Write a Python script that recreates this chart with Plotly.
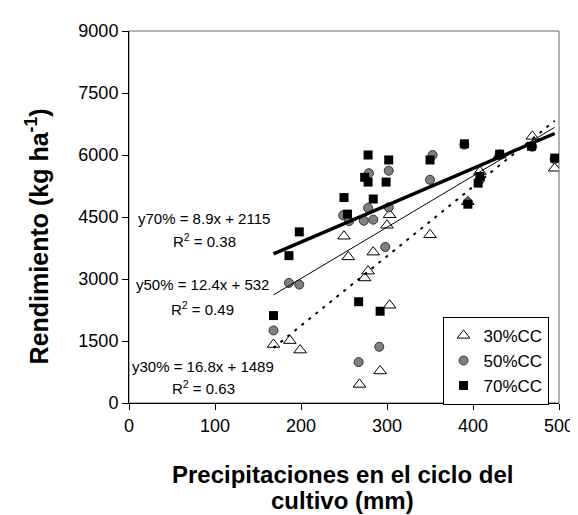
import plotly.graph_objects as go

# ---- data ----
x30 = [168, 187, 199, 250, 255, 268, 274, 278, 284, 292, 300, 303, 303, 350, 394, 408, 431, 469, 495]
y30 = [1415, 1510, 1280, 4035, 3535, 450, 3025, 3190, 3650, 775, 4300, 4555, 2365, 4070, 4870, 5600, 6000, 6450, 5680]

x50 = [168, 186, 198, 249, 256, 267, 273, 278, 279, 284, 291, 298, 302, 302, 350, 353, 390, 394, 408, 431, 469, 495]
y50 = [1755, 2905, 2865, 4540, 4400, 990, 4410, 4720, 5560, 4435, 1360, 3775, 4735, 5620, 5400, 6000, 6250, 4850, 5400, 6000, 6200, 5900]

x70 = [168, 186, 198, 250, 254, 267, 274, 278, 278, 284, 292, 299, 302, 350, 390, 394, 406, 408, 431, 468, 495]
y70 = [2115, 3565, 4140, 4970, 4570, 2450, 5460, 5345, 6000, 4935, 2220, 5345, 5880, 5880, 6270, 4810, 5320, 5480, 6020, 6210, 5925]

series_names = ["30%CC", "50%CC", "70%CC"]
slopes = [16.8, 12.4, 8.9]
intercepts = [-1489, 532, 2115]
eq_labels = ["y30% = 16.8x + 1489", "y50% = 12.4x + 532", "y70% = 8.9x + 2115"]
r2_labels = ["0.63", "0.49", "0.38"]

x_ticks = [0, 100, 200, 300, 400, 500]
y_ticks = [0, 1500, 3000, 4500, 6000, 7500, 9000]

FONT = "Arial, Liberation Sans, sans-serif"

fig = go.Figure()

xs = [x30, x50, x70]
ys = [y30, y50, y70]
marker_styles = [
    dict(symbol="triangle-up", size=11, color="white", line=dict(color="black", width=1)),
    dict(symbol="circle", size=9, color="#808080", line=dict(color="#333333", width=1)),
    dict(symbol="square", size=9, color="black", line=dict(color="black", width=0)),
]
for xv, yv, name, ms in zip(xs, ys, series_names, marker_styles):
    fig.add_trace(go.Scatter(x=xv, y=yv, mode="markers", name=name, marker=ms))

line_styles = [
    dict(color="black", width=2, dash="3px,6px"),
    dict(color="black", width=1),
    dict(color="black", width=3.5),
]
for xv, a, b, ls in zip(xs, slopes, intercepts, line_styles):
    lx = [min(xv), max(xv)]
    ly = [a * v + b for v in lx]
    fig.add_trace(go.Scatter(x=lx, y=ly, mode="lines", line=ls, showlegend=False, hoverinfo="skip"))

# plot area geometry (px)
L, R, T, B = 120.7, 560.7, 22.7, 395.3
W, H = 578, 515
def px2paper(px, py):
    return (px - L) / (R - L), (B - py) / (B - T)

ann = []
eq_pos = [(196.7, 358.3, 197, 380), (196.2, 277, 195.8, 300.7), (197.5, 210.7, 197.5, 233)]
for lab, r2, (ex, ey, rx, ry) in zip(eq_labels, r2_labels, eq_pos):
    px_, py_ = px2paper(ex, ey)
    ann.append(dict(x=px_, y=py_, xref="paper", yref="paper", text=lab, showarrow=False,
                    font=dict(size=15, family=FONT, color="black"), xanchor="center", yanchor="middle"))
    px_, py_ = px2paper(rx, ry)
    ann.append(dict(x=px_, y=py_, xref="paper", yref="paper", text="R<sup>2</sup> = " + r2, showarrow=False,
                    font=dict(size=15, family=FONT, color="black"), xanchor="center", yanchor="middle"))

# axis titles
px_, py_ = px2paper(27, 228)
ann.append(dict(x=px_, y=py_, xref="paper", yref="paper", text="<b>Rendimiento (kg ha<sup>-1</sup>)</b>",
                textangle=-90, showarrow=False, font=dict(size=25, family=FONT, color="black"),
                xanchor="center", yanchor="middle"))
px_, py_ = px2paper(339, 467)
ann.append(dict(x=px_, y=py_, xref="paper", yref="paper", text="<b>Precipitaciones en el ciclo del</b>",
                showarrow=False, font=dict(size=24, family=FONT, color="black"),
                xanchor="center", yanchor="middle"))
px_, py_ = px2paper(339, 493)
ann.append(dict(x=px_, y=py_, xref="paper", yref="paper", text="<b>cultivo (mm)</b>",
                showarrow=False, font=dict(size=24, family=FONT, color="black"),
                xanchor="center", yanchor="middle"))

lx_, ly_ = px2paper(550, 309)

fig.update_layout(
    width=W, height=H,
    margin=dict(l=L, r=W - R, t=T, b=H - B),
    plot_bgcolor="white", paper_bgcolor="white",
    font=dict(family=FONT, size=18, color="black"),
    showlegend=True,
    legend=dict(x=lx_, y=ly_, xanchor="right", yanchor="top", bgcolor="white",
                bordercolor="black", borderwidth=1, font=dict(size=17, family=FONT),
                itemwidth=30, tracegroupgap=0),
    annotations=ann,
    shapes=[dict(type="rect", xref="x domain", yref="y domain", x0=0, x1=1, y0=0, y1=1,
                 line=dict(color="#666666", width=1), layer="below")],
)
fig.update_xaxes(range=[0, 500], tickvals=x_ticks, ticks="outside", ticklen=6, tickcolor="black",
                 showline=True, linecolor="black", linewidth=1, showgrid=False, zeroline=False,
                 tickfont=dict(size=18, family=FONT))
fig.update_yaxes(range=[0, 9000], tickvals=y_ticks, ticks="outside", ticklen=6, tickcolor="black",
                 showline=True, linecolor="black", linewidth=1, showgrid=False, zeroline=False,
                 tickfont=dict(size=18, family=FONT))

fig.write_html("out.html")
